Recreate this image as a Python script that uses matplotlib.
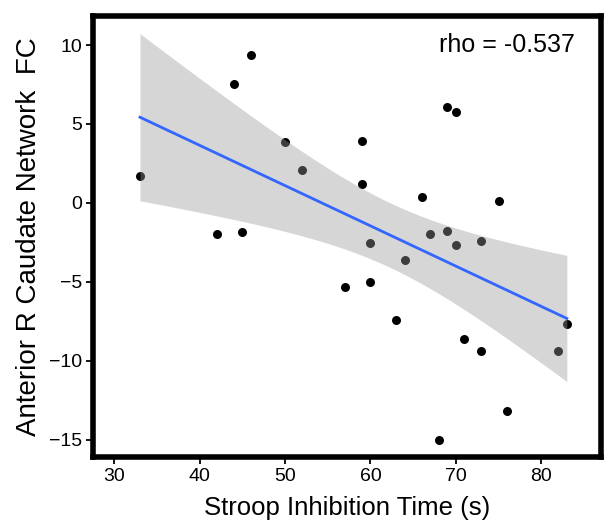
import matplotlib.pyplot as plt
import numpy as np

plt.rcParams['font.family'] = ['Liberation Sans', 'DejaVu Sans']

# Stroop inhibition time (s) and FC values
stroop_time = [33, 42, 44, 45, 46, 50, 52, 57, 59, 59, 60, 60, 63, 64,
               66, 67, 68, 69, 69, 70, 70, 71, 73, 73, 75, 76, 82, 83]
caudate_fc = [1.7, -1.95, 7.55, -1.85, 9.4, 3.85, 2.1, -5.3, 3.9, 1.2, -2.55, -5.0, -7.4, -3.6,
              0.35, -1.95, -15.0, 6.1, -1.8, 5.75, -2.65, -8.6, -9.35, -2.4, 0.15, -13.2, -9.35, -7.65]
rho_text = 'rho = -0.537'
x_ticks = [30, 40, 50, 60, 70, 80]
y_ticks = [10, 5, 0, -5, -10, -15]

x = np.array(stroop_time, dtype=float)
y = np.array(caudate_fc, dtype=float)

# linear fit with 95% confidence band (like geom_smooth(method='lm'))
n = len(x)
slope, intercept = np.polyfit(x, y, 1)
resid = y - (slope * x + intercept)
s_err = np.sqrt(np.sum(resid ** 2) / (n - 2))
t_val = 2.0555  # t(0.975, df=26)
xs = np.linspace(x.min(), x.max(), 100)
ys = slope * xs + intercept
se = s_err * np.sqrt(1 / n + (xs - x.mean()) ** 2 / np.sum((x - x.mean()) ** 2))

fig = plt.figure(figsize=(6.04, 5.29), dpi=100)
ax = fig.add_axes([0.154, 0.136, 0.841, 0.834])

ax.scatter(x, y, s=42, color='black', linewidths=0, zorder=2)
ax.fill_between(xs, ys - t_val * se, ys + t_val * se, color='#999999', alpha=0.4,
                linewidth=0, zorder=3)
ax.plot(xs, ys, color='#3366FF', linewidth=2, zorder=4)

ax.text(0.948, 0.935, rho_text, transform=ax.transAxes, ha='right', va='center', fontsize=18)

ax.set_xlim(27.5, 87.0)
ax.set_ylim(-16.1, 11.85)
ax.set_xticks(x_ticks)
ax.set_yticks(y_ticks)
ax.set_yticklabels(['10', '5', '0', '\u22125', '\u221210', '\u221215'])
ax.tick_params(direction='out', length=5, width=1.3, labelsize=14, pad=3, colors='black')

for sp in ax.spines.values():
    sp.set_linewidth(4)
    sp.set_color('black')

ax.set_xlabel('Stroop Inhibition Time (s)', fontsize=18.5, labelpad=8)
ax.set_ylabel('Anterior R Caudate Network  FC', fontsize=20, labelpad=5)

plt.savefig('out.png', dpi=100)
